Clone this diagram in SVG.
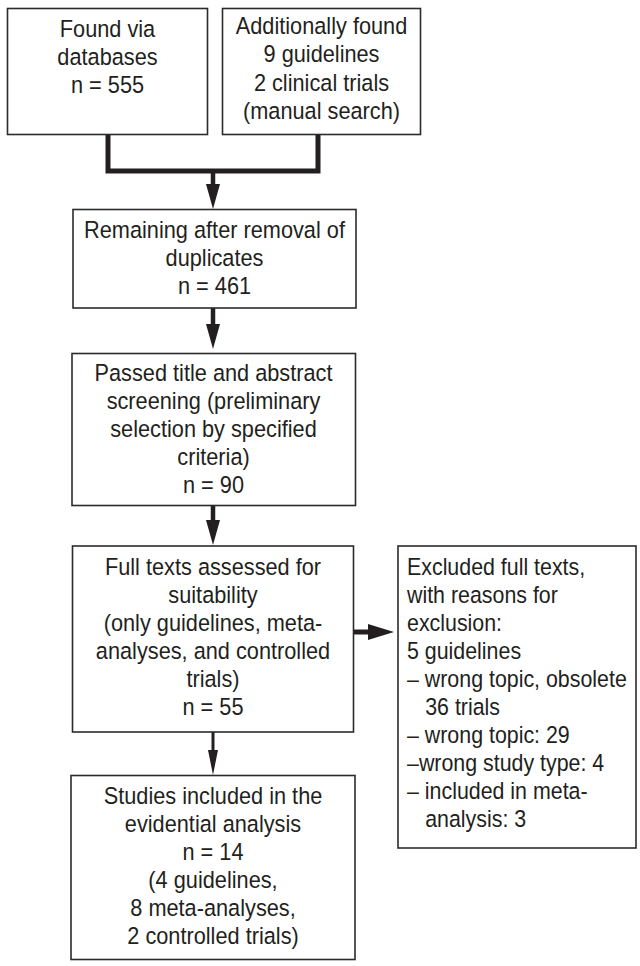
<svg xmlns="http://www.w3.org/2000/svg" width="640" height="966" viewBox="0 0 640 966">
<style>
  .box { fill: #ffffff; stroke: #2b2b2b; stroke-width: 1.6; }
  .t { font-family: "Liberation Sans", Arial, sans-serif; font-size: 23.5px; fill: #231f20; }
  .c { text-anchor: middle; }
  .line { stroke: #231f20; fill: none; }
  .head { fill: #231f20; }
</style>
<rect width="640" height="966" fill="#ffffff"/>

<g id="connectors">
  <path class="line" d="M108 135 V171 H318 V135" stroke-width="5" stroke-linejoin="miter"/>
  <line class="line" x1="213" y1="171" x2="213" y2="186" stroke-width="4.5"/>
  <polygon class="head" points="206,184 220,184 213,209"/>
  <line class="line" x1="213" y1="308" x2="213" y2="326" stroke-width="4.5"/>
  <polygon class="head" points="206,324 220,324 213,349"/>
  <line class="line" x1="213" y1="506" x2="213" y2="522" stroke-width="4.5"/>
  <polygon class="head" points="206,520 220,520 213,545"/>
  <line class="line" x1="213" y1="732" x2="213" y2="752" stroke-width="3"/>
  <polygon class="head" points="208,750 218,750 213,775"/>
  <line class="line" x1="354" y1="632" x2="370" y2="632" stroke-width="5"/>
  <polygon class="head" points="368,624 394,632 368,640"/>
</g>

<g id="n1">
  <rect class="box" x="7.5" y="8.5" width="200" height="126"/>
  <g transform="translate(107.5,0) scale(0.925,1)">
    <text class="t c" x="0" y="37">Found via</text>
    <text class="t c" x="0" y="65">databases</text>
    <text class="t c" x="0" y="93">n = 555</text>
  </g>
</g>

<g id="n2">
  <rect class="box" x="222.5" y="8.5" width="198" height="126"/>
  <g transform="translate(321.5,0) scale(0.925,1)">
    <text class="t c" x="0" y="34">Additionally found</text>
    <text class="t c" x="0" y="62">9 guidelines</text>
    <text class="t c" x="0" y="91">2 clinical trials</text>
    <text class="t c" x="0" y="119">(manual search)</text>
  </g>
</g>

<g id="n3">
  <rect class="box" x="73" y="209.5" width="283" height="98.5"/>
  <g transform="translate(214.5,0) scale(0.925,1)">
    <text class="t c" x="0" y="238">Remaining after removal of</text>
    <text class="t c" x="0" y="266">duplicates</text>
    <text class="t c" x="0" y="294">n = 461</text>
  </g>
</g>

<g id="n4">
  <rect class="box" x="72" y="353.5" width="283.5" height="152"/>
  <g transform="translate(213.5,0) scale(0.925,1)">
    <text class="t c" x="0" y="381">Passed title and abstract</text>
    <text class="t c" x="0" y="409">screening (preliminary</text>
    <text class="t c" x="0" y="437">selection by specified</text>
    <text class="t c" x="0" y="465">criteria)</text>
    <text class="t c" x="0" y="493">n = 90</text>
  </g>
</g>

<g id="n5">
  <rect class="box" x="72.5" y="546" width="281" height="186"/>
  <g transform="translate(213,0) scale(0.925,1)">
    <text class="t c" x="0" y="575">Full texts assessed for</text>
    <text class="t c" x="0" y="603">suitability</text>
    <text class="t c" x="0" y="631">(only guidelines, meta-</text>
    <text class="t c" x="0" y="659">analyses, and controlled</text>
    <text class="t c" x="0" y="687">trials)</text>
    <text class="t c" x="0" y="715">n = 55</text>
  </g>
</g>

<g id="n6">
  <rect class="box" x="71" y="775.5" width="284" height="184"/>
  <g transform="translate(213,0) scale(0.925,1)">
    <text class="t c" x="0" y="804">Studies included in the</text>
    <text class="t c" x="0" y="832">evidential analysis</text>
    <text class="t c" x="0" y="860">n = 14</text>
    <text class="t c" x="0" y="888">(4 guidelines,</text>
    <text class="t c" x="0" y="916">8 meta-analyses,</text>
    <text class="t c" x="0" y="944">2 controlled trials)</text>
  </g>
</g>

<g id="n7">
  <rect class="box" x="398" y="546" width="238" height="302"/>
  <g transform="translate(407,0) scale(0.91,1)">
    <text class="t" x="0" y="575">Excluded full texts,</text>
    <text class="t" x="0" y="603">with reasons for</text>
    <text class="t" x="0" y="631">exclusion:</text>
    <text class="t" x="0" y="659">5 guidelines</text>
    <text class="t" x="0" y="687">– wrong topic, obsolete</text>
    <text class="t" x="20" y="715">36 trials</text>
    <text class="t" x="0" y="743">– wrong topic: 29</text>
    <text class="t" x="0" y="771">–wrong study type: 4</text>
    <text class="t" x="0" y="799">– included in meta-</text>
    <text class="t" x="20" y="827">analysis: 3</text>
  </g>
</g>
</svg>
